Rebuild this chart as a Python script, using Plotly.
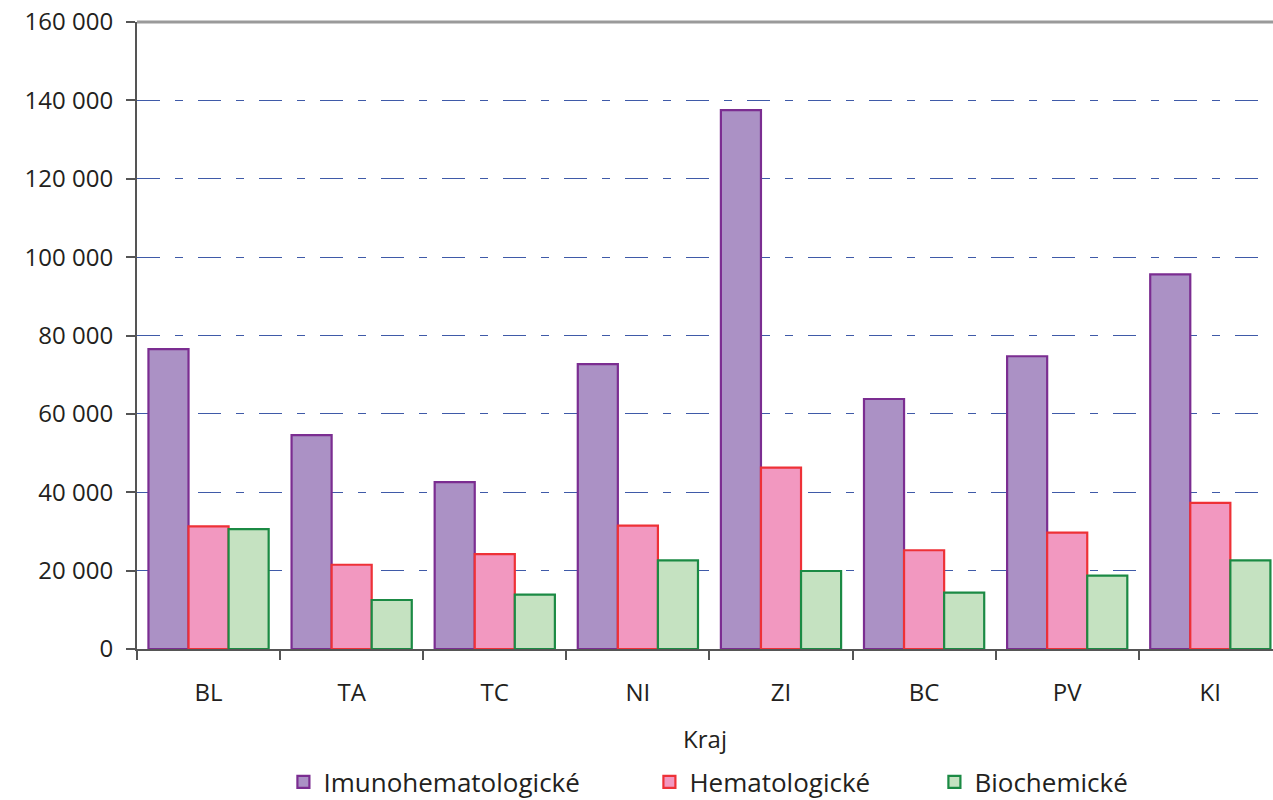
import plotly.graph_objects as go

categories = ["BL", "TA", "TC", "NI", "ZI", "BC", "PV", "KI"]
imuno = [76500, 54600, 42600, 72700, 137500, 63800, 74700, 95600]
hemato = [31300, 21500, 24200, 31500, 46300, 25200, 29700, 37300]
bio = [30600, 12500, 13900, 22600, 19900, 14400, 18700, 22600]
series_names = ["Imunohematologické", "Hematologické", "Biochemické"]
y_ticks = [0, 20000, 40000, 60000, 80000, 100000, 120000, 140000, 160000]

FONT = "Open Sans"
TXT = "#231f20"

fills = ["#ab91c5", "#f298c0", "#c5e2c1"]
lines = ["#7b2d91", "#ee3137", "#1b8a44"]
legend_widths = [321, 240, None]

fig = go.Figure()
for name, vals, fc, lc, lw in zip(series_names, [imuno, hemato, bio], fills, lines, legend_widths):
    fig.add_trace(go.Bar(
        x=categories, y=vals, name=name,
        marker=dict(color=fc, line=dict(color=lc, width=2.2)),
        legendwidth=lw,
    ))

fig.update_layout(
    width=1273, height=800,
    margin=dict(l=137, r=0, t=22, b=151, autoexpand=False),
    paper_bgcolor="white", plot_bgcolor="white",
    barmode="group", bargap=0.16, bargroupgap=0,
    separators=". ",
    font=dict(family=FONT, size=24, color=TXT),
    showlegend=True,
    legend=dict(orientation="h", x=0.503, xanchor="center", y=-0.2121, yanchor="middle",
                font=dict(family=FONT, size=26, color=TXT), traceorder="normal",
                itemwidth=30),
    xaxis=dict(
        range=[-0.5, 7.438], automargin=False,
        showline=True, linecolor="#555555", linewidth=2,
        ticks="outside", tickson="boundaries", ticklen=9, tickcolor="#555555", tickwidth=1.5,
        tickfont=dict(family=FONT, size=24, color=TXT),
        ticklabelstandoff=21,
        title=dict(text="Kraj", font=dict(family=FONT, size=24, color=TXT), standoff=24),
        showgrid=False,
    ),
    yaxis=dict(
        range=[0, 160000], tickvals=y_ticks, tickformat=",d", automargin=False,
        showline=True, linecolor="#555555", linewidth=2,
        ticks="outside", ticklen=9, tickcolor="#555555", tickwidth=1.5,
        tickfont=dict(family=FONT, size=24, color=TXT),
        ticklabelstandoff=8, ticklabeloverflow="allow",
        showgrid=True, gridcolor="#3f5aa8", gridwidth=1.2,
        griddash="23px,15px,8px,15px",
        zeroline=False,
    ),
    shapes=[dict(type="line", xref="paper", yref="paper", x0=0, x1=1, y0=1, y1=1,
                 line=dict(color="#9a9a9a", width=3), layer="above")],
)

fig.write_html("out.html", config={"displayModeBar": False},
               post_script="document.body.style.margin='0';document.body.style.overflow='hidden';")
